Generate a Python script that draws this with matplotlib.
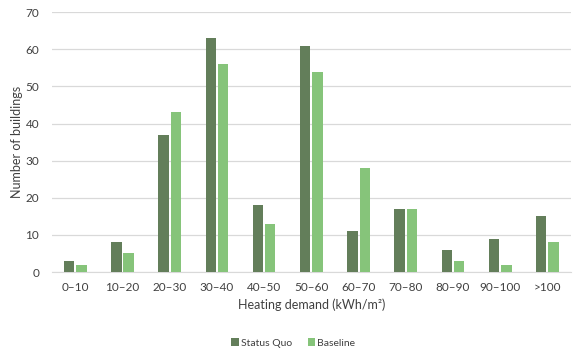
import matplotlib.pyplot as plt
import numpy as np

categories = ['0–10', '10–20', '20–30', '30–40', '40–50', '50–60',
              '60–70', '70–80', '80–90', '90–100', '>100']
status_quo = [3, 8, 37, 63, 18, 61, 11, 17, 6, 9, 15]
baseline = [2, 5, 43, 56, 13, 54, 28, 17, 3, 2, 8]

plt.rcParams['font.family'] = ['Lato', 'DejaVu Sans']

fig = plt.figure(figsize=(5.75, 3.57), dpi=100)
ax = fig.add_axes([0.09, 0.238, 0.903, 0.728])

x = np.arange(len(categories))
w = 0.22
ax.bar(x - 0.13, status_quo, w, color='#637e5a', label='Status Quo', zorder=3)
ax.bar(x + 0.13, baseline, w, color='#86c47a', label='Baseline', zorder=3)

ax.set_xlim(-0.5, len(categories) - 0.5)
ax.set_ylim(0, 70)
ax.set_yticks(range(0, 71, 10))
ax.set_xticks(x)
ax.set_xticklabels(categories)
ax.tick_params(length=0, labelsize=8.5, colors='#404040')
ax.tick_params(axis='x', pad=7)
ax.tick_params(axis='y', pad=9)
ax.yaxis.grid(True, color='#d9d9d9', lw=0.9, zorder=0)
for s in ['top', 'right', 'left']:
    ax.spines[s].set_visible(False)
ax.spines['bottom'].set_color('#d9d9d9')

ax.set_xlabel('Heating demand (kWh/m²)', fontsize=9, color='#404040', labelpad=4)
ax.set_ylabel('Number of buildings', fontsize=9, color='#404040', labelpad=2)

fig.legend(loc='lower center', bbox_to_anchor=(0.51, 0.0), ncol=2, frameon=False,
           fontsize=7.5, handlelength=0.7, handleheight=0.7, columnspacing=1.5,
           handletextpad=0.2, labelcolor='#404040')

fig.savefig('out.png', dpi=100)
